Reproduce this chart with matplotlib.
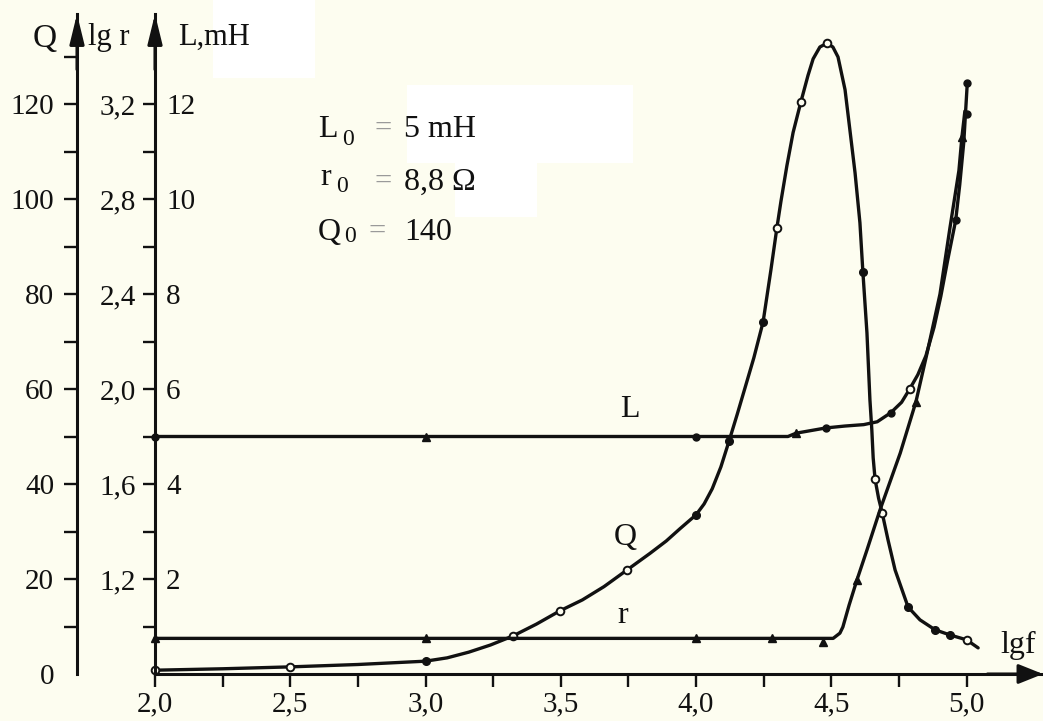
import matplotlib
matplotlib.use("Agg")
import matplotlib.pyplot as plt
from matplotlib.ticker import FixedLocator, FixedFormatter
from matplotlib.transforms import ScaledTranslation
from matplotlib.patches import Rectangle

# ---------------- DATA ----------------
# Q curve (drawn line), x = lg f
q_line_x = [2.0, 2.25, 2.5, 2.75, 3.0, 3.08, 3.16, 3.24, 3.323, 3.41, 3.497, 3.58, 3.66,
            3.745, 3.83, 3.89, 3.941, 4.0, 4.03, 4.06, 4.092, 4.122, 4.152, 4.181, 4.214,
            4.248, 4.277, 4.299, 4.314, 4.336, 4.359, 4.388, 4.414, 4.433, 4.458, 4.484,
            4.506, 4.525, 4.551, 4.569, 4.588, 4.606, 4.617, 4.632, 4.643, 4.65, 4.655,
            4.662, 4.675, 4.688, 4.71, 4.736, 4.784, 4.828, 4.884, 4.94, 5.0, 5.043]
q_line_y = [0.8, 1.1, 1.5, 2.0, 2.7, 3.4, 4.6, 6.1, 8.0, 10.5, 13.3, 15.6, 18.4,
            21.9, 25.4, 28.0, 30.6, 33.5, 35.8, 39.0, 43.6, 49.0, 54.6, 60.2, 66.6,
            74.1, 85.1, 93.9, 99.5, 107.0, 114.0, 120.5, 126.0, 129.5, 132.0, 132.8,
            132.0, 129.9, 123.0, 114.5, 105.5, 95.0, 84.6, 71.8, 57.7, 51.4, 45.5,
            41.0, 37.0, 34.0, 28.2, 21.9, 14.1, 11.4, 9.3, 8.2, 7.2, 5.5]
# Q measured points
q_open_x = [2.0, 2.5, 3.323, 3.497, 3.745, 4.299, 4.388, 4.484, 4.662, 4.688, 5.0]
q_open_y = [0.8, 1.5, 8.0, 13.3, 21.9, 93.9, 120.5, 132.8, 41.0, 34.0, 7.2]
q_fill_x = [3.0, 4.0, 4.122, 4.248, 4.617, 4.784, 4.884, 4.94]
q_fill_y = [2.7, 33.5, 49.0, 74.1, 84.6, 14.1, 9.3, 8.2]

# L curve (mH)
l_line_x = [2.0, 4.34, 4.37, 4.42, 4.48, 4.55, 4.62, 4.67, 4.72, 4.76, 4.79, 4.82, 4.85,
            4.88, 4.905, 4.93, 4.96, 4.975, 4.99, 5.003]
l_line_y = [5.0, 5.0, 5.07, 5.12, 5.18, 5.22, 5.25, 5.31, 5.5, 5.72, 6.0, 6.3, 6.7,
            7.3, 7.95, 8.7, 9.55, 10.3, 11.2, 12.45]
l_fill_x = [2.0, 4.0, 4.48, 4.72, 4.96, 5.0, 5.003]
l_fill_y = [5.0, 5.0, 5.18, 5.5, 9.55, 11.8, 12.45]
l_tri_x = [3.0, 4.37]
l_tri_y = [5.0, 5.07]
l_open_x = [4.79]
l_open_y = [6.0]

# lg r curve
r_line_x = [2.0, 4.507, 4.532, 4.543, 4.566, 4.595, 4.632, 4.68, 4.755, 4.813, 4.854, 4.902,
            4.939, 4.972, 4.983, 4.994]
r_line_y = [0.95, 0.95, 0.972, 0.998, 1.09, 1.196, 1.322, 1.49, 1.73, 1.946, 2.15, 2.40,
            2.68, 2.92, 3.06, 3.17]
r_tri_x = [2.0, 3.0, 4.0, 4.28, 4.47, 4.595, 4.813, 4.983]
r_tri_y = [0.95, 0.95, 0.95, 0.95, 0.935, 1.196, 1.946, 3.06]

# axes ticks / labels
x_major = [2.0, 2.5, 3.0, 3.5, 4.0, 4.5, 5.0]
x_major_labels = ["2,0", "2,5", "3,0", "3,5", "4,0", "4,5", "5,0"]
x_minor = [2.25, 2.75, 3.25, 3.75, 4.25, 4.75]
q_major = [0, 20, 40, 60, 80, 100, 120]
q_major_labels = ["0", "20", "40", "60", "80", "100", "120"]
q_minor = [10, 30, 50, 70, 90, 110, 130]
r_major = [1.2, 1.6, 2.0, 2.4, 2.8, 3.2]
r_major_labels = ["1,2", "1,6", "2,0", "2,4", "2,8", "3,2"]
r_minor = [1.0, 1.4, 1.8, 2.2, 2.6, 3.0]
l_major = [2, 4, 6, 8, 10, 12]
l_major_labels = ["2", "4", "6", "8", "10", "12"]

# ---------------- STYLE / LAYOUT ----------------
BG = "#fdfdf0"
INK = "#111111"
FS = 21
plt.rcParams["font.family"] = ["Liberation Serif", "DejaVu Serif"]

W, H = 1043, 721
fig = plt.figure(figsize=(W / 100, H / 100), dpi=100, facecolor=BG)


def fx(px):
    return px / W


def fy(py):
    return 1 - py / H


# white patches of the original scan
for (x0, y0, x1, y1) in [(213, 0, 315, 78), (407, 85, 633, 163), (455, 163, 537, 217)]:
    fig.add_artist(Rectangle((fx(x0), fy(y1)), fx(x1) - fx(x0), fy(y0) - fy(y1),
                             transform=fig.transFigure, facecolor="white",
                             edgecolor="none", zorder=-5))

ax = fig.add_axes([fx(155), fy(674), fx(1043) - fx(155), fy(14) - fy(674)])
ax.patch.set_visible(False)
ytop = (674 - 14) / 4.75
ax.set_xlim(2.0, 2.0 + (1043 - 155) / 270.5)
ax.set_ylim(0, ytop)

ax_r = ax.twinx()
ax_r.set_ylim(0.8, 0.8 + ytop * 0.02)
ax_L = ax.twinx()
ax_L.set_ylim(0, ytop / 10)

LW_AX = 2.2
# main (Q) axis
for s in ["top", "right"]:
    ax.spines[s].set_visible(False)
ax.spines["left"].set_position(("outward", 78 * 0.72))
ax.spines["left"].set_linewidth(LW_AX)
ax.spines["bottom"].set_linewidth(LW_AX)
ax.spines["left"].set_color(INK)
ax.spines["bottom"].set_color(INK)

ax.xaxis.set_major_locator(FixedLocator(x_major))
ax.xaxis.set_major_formatter(FixedFormatter(x_major_labels))
ax.xaxis.set_minor_locator(FixedLocator(x_minor))
ax.tick_params(axis="x", which="both", direction="out", length=9.4, width=1.7,
               colors=INK, labelsize=FS, pad=3)

ax.yaxis.set_major_locator(FixedLocator(q_major))
ax.yaxis.set_major_formatter(FixedFormatter(q_major_labels))
ax.yaxis.set_minor_locator(FixedLocator(q_minor))
ax.tick_params(axis="y", which="both", direction="out", length=9.4, width=1.7,
               colors=INK, labelsize=FS, pad=7, left=True, right=False)
ax.yaxis.get_major_ticks()[0].tick1line.set_visible(False)

# lg r axis (drawn on the L axis line, labels to the left)
for s in ["top", "right", "bottom"]:
    ax_r.spines[s].set_visible(False)
ax_r.spines["left"].set_visible(True)
ax_r.spines["left"].set_linewidth(LW_AX)
ax_r.spines["left"].set_color(INK)
ax_r.yaxis.set_ticks_position("left")
ax_r.yaxis.set_major_locator(FixedLocator(r_major))
ax_r.yaxis.set_major_formatter(FixedFormatter(r_major_labels))
ax_r.yaxis.set_minor_locator(FixedLocator(r_minor))
ax_r.tick_params(axis="y", which="both", direction="out", length=8.5, width=1.7,
                 colors=INK, labelsize=FS, pad=5)

# L axis labels, right of the same line
for s in ["top", "left", "bottom"]:
    ax_L.spines[s].set_visible(False)
ax_L.spines["right"].set_position(("axes", 0))
ax_L.spines["right"].set_visible(False)
ax_L.yaxis.set_major_locator(FixedLocator(l_major))
ax_L.yaxis.set_major_formatter(FixedFormatter(l_major_labels))
ax_L.tick_params(axis="y", which="both", length=0, colors=INK, labelsize=FS, pad=8)

# arrows on axes
arrow_up = dict(arrowstyle="-|>,head_length=0.9,head_width=0.22", color=INK, lw=LW_AX,
                shrinkA=0, shrinkB=0, mutation_scale=20)
q_shift = ax.transAxes + ScaledTranslation(-0.78, 0, fig.dpi_scale_trans)
ax.annotate("", xy=(0, 1), xycoords=q_shift, xytext=(0, -40), textcoords="offset points",
            arrowprops=arrow_up, annotation_clip=False)
ax.annotate("", xy=(0, 1), xycoords="axes fraction", xytext=(0, -40),
            textcoords="offset points", arrowprops=arrow_up, annotation_clip=False)
arrow_right = dict(arrowstyle="-|>,head_length=0.75,head_width=0.3", color=INK, lw=LW_AX,
                   shrinkA=0, shrinkB=0, mutation_scale=20)
ax.annotate("", xy=(1, 0), xycoords="axes fraction", xytext=(-40, 0),
            textcoords="offset points", arrowprops=arrow_right, annotation_clip=False)

# ---------------- CURVES ----------------
LW = 2.4
line_kw = dict(color=INK, lw=LW, clip_on=False, zorder=3,
               solid_joinstyle="round", solid_capstyle="round")
ax.plot(q_line_x, q_line_y, **line_kw)
ax_L.plot(l_line_x, l_line_y, **line_kw)
ax_r.plot(r_line_x, r_line_y, **line_kw)

MS = 5.5
ax.plot(q_open_x, q_open_y, "o", ms=MS, mfc=BG, mec=INK, mew=1.4, clip_on=False, zorder=4)
ax.plot(q_fill_x, q_fill_y, "o", ms=MS, color=INK, clip_on=False, zorder=4)
ax_L.plot(l_fill_x, l_fill_y, "o", ms=MS - 0.5, color=INK, clip_on=False, zorder=4)
ax_L.plot(l_tri_x, l_tri_y, "^", ms=MS, color=INK, clip_on=False, zorder=4)
ax_L.plot(l_open_x, l_open_y, "o", ms=MS, mfc=BG, mec=INK, mew=1.4, clip_on=False, zorder=4)
ax_r.plot(r_tri_x, r_tri_y, "^", ms=MS + 0.5, color=INK, clip_on=False, zorder=4)

# curve labels
ax.text(3.756, 55.6, "L", fontsize=23, ha="center", va="center", color=INK)
ax.text(3.74, 28.8, "Q", fontsize=23, ha="center", va="center", color=INK)
ax.text(3.73, 12.4, "r", fontsize=23, ha="center", va="center", color=INK)
ax.text(5.19, 6.1, "lgf", fontsize=23, ha="center", va="center", color=INK,
        clip_on=False)

# axis titles
fig.text(fx(33), fy(47), "Q", fontsize=24, color=INK, va="baseline")
fig.text(fx(88), fy(45), "lg r", fontsize=22, color=INK, va="baseline")
fig.text(fx(178), fy(45), "L,mH", fontsize=22, color=INK, va="baseline")

# parameter block
GRAY = "#9a9a9a"
fig.text(fx(318), fy(137), "L", fontsize=23, color=INK, va="baseline")
fig.text(fx(342), fy(145), "0", fontsize=17, color=INK, va="baseline")
fig.text(fx(374), fy(137), "=", fontsize=22, color=GRAY, va="baseline")
fig.text(fx(404), fy(137), "5 mH", fontsize=23, color=INK, va="baseline")

fig.text(fx(320), fy(185), "r", fontsize=23, color=INK, va="baseline")
fig.text(fx(336), fy(192), "0", fontsize=17, color=INK, va="baseline")
fig.text(fx(374), fy(190), "=", fontsize=22, color=GRAY, va="baseline")
fig.text(fx(404), fy(190), "8,8 Ω", fontsize=23, color=INK, va="baseline")

fig.text(fx(318), fy(240), "Q", fontsize=23, color=INK, va="baseline")
fig.text(fx(344), fy(242), "0", fontsize=17, color=INK, va="baseline")
fig.text(fx(368), fy(240), "=", fontsize=22, color=GRAY, va="baseline")
fig.text(fx(404), fy(240), "140", fontsize=23, color=INK, va="baseline")

fig.savefig("out.png", dpi=100, facecolor=BG)
